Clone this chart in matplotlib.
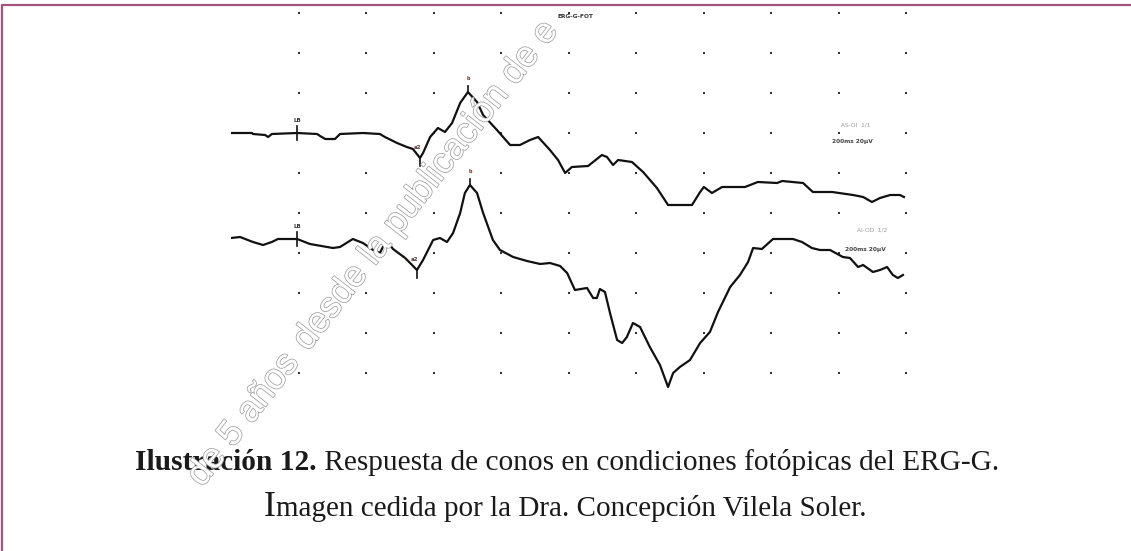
import numpy as np
import matplotlib
matplotlib.use("Agg")
import matplotlib.pyplot as plt
import matplotlib.patheffects as pe
from matplotlib.lines import Line2D

# time in ms (20 ms / division), amplitude in uV relative to each trace baseline
t_top = [0, 6.2, 6.5, 10.1, 11.0, 12.1, 19.6, 25.5, 26.4, 27.9, 30.8, 32.3, 39.1, 44.1,
         45.6, 49.2, 52.1, 53.9, 56.0, 56.9, 59.0, 61.3, 63.4, 65.5, 67.9, 70.2, 72.9,
         74.7, 78.8, 82.7, 85.6, 88.6, 91.0, 94.5, 96.9, 99.0, 101.0, 105.8, 109.9,
         111.4, 113.2, 114.7, 118.8, 122.1, 126.2, 129.5, 136.6, 139.0, 140.1, 142.5,
         145.5, 152.3, 156.1, 161.8, 163.3, 169.5, 172.4, 178.1, 184.3, 187.3, 189.9,
         192.3, 195.3, 198.2, 199.4]
v_top = [0, 0, -0.5, -1, -2, -0.5, 0, -0.5, -1.5, -3, -3, -0.5, 0, -0.5,
         -2, -5, -7, -8, -12.5, -10, -2, 2.5, 0.5, 5, 15, 20.5, 15.5,
         9, 1.5, -6, -6, -3.5, -2, -8.5, -13.5, -20, -17, -16.5, -11,
         -12, -16, -13.5, -14.5, -19.5, -27.5, -36, -36, -29.5, -27, -30,
         -27, -27, -24.5, -25, -24, -25, -29.5, -29.5, -31, -32, -34.5,
         -32.5, -31, -31, -32]

t_bot = [0, 2.7, 6.5, 9.5, 12.1, 13.9, 19.6, 23.4, 30.2, 32.3, 36.1, 39.1, 42.1, 44.1,
         45.0, 47.1, 48.0, 51.6, 55.1, 56.9, 59.9, 61.9, 64.0, 65.8, 67.9, 69.3, 70.8,
         72.9, 74.7, 77.6, 79.7, 83.6, 87.7, 91.6, 94.5, 97.5, 99.6, 101.9, 105.5,
         107.3, 108.4, 109.3, 110.8, 112.3, 114.4, 115.9, 117.3, 119.1, 121.2, 124.1,
         127.1, 129.5, 131.0, 133.0, 136.0, 139.0, 141.9, 144.3, 147.9, 150.8, 153.2,
         154.7, 157.3, 160.6, 166.5, 169.2, 172.1, 174.5, 177.5, 181.3, 183.4, 185.8,
         187.3, 190.2, 192.3, 194.4, 196.1, 197.6, 199.1]
v_bot = [0, 0.5, -2, -3.5, -2, -0.5, -0.5, -3, -5, -4.5, -0.5, -2.5, -6, -7.5,
         -4.5, -3.5, -5.5, -10, -16, -11, -1, 0, -2, 2.5, 12.5, 22.5, 26.5,
         22.5, 12.5, -1, -6, -9.5, -11.5, -13, -12.5, -14, -17.5, -26, -25,
         -30, -30, -25.5, -27, -37.5, -51, -52.5, -49.5, -42.5, -44.5, -54.5,
         -63.5, -74.5, -67.5, -64.5, -61, -52.5, -47, -37, -24.5, -18.5, -12,
         -5, -5.5, -0.5, -0.5, -2, -5, -6, -6, -9.5, -10, -14.5,
         -13.5, -17, -16, -14.5, -18.5, -20, -18.5]

channels = ["AS-OI  1/1", "AI-OD  1/2"]
scale_label = "200ms 20µV"
event_names = ["LB", "a2", "b"]
events_top = [19.6, 56.0, 70.2]
events_bot = [19.6, 55.1, 70.8]

grid_t = np.arange(20, 201, 20)
grid_v = np.arange(0, 181, 20)

fig = plt.figure(figsize=(11.31, 5.51), dpi=100)
ax = fig.add_axes([231 / 1131, 151 / 551, 675 / 1131, 400 / 551])
ax.set_xlim(0, 200)
ax.set_ylim(-13.5, 186.5)
ax.axis("off")

gt, gv = np.meshgrid(grid_t, grid_v)
ax.plot(gt.ravel(), gv.ravel(), "s", ms=1.6, color="#333333", mew=0, clip_on=False)

offsets = [120, 67.5]
traces = [(t_top, v_top, events_top), (t_bot, v_bot, events_bot)]
for (tt, vv, ev), off in zip(traces, offsets):
    yy = np.array(vv) + off
    ax.plot(tt, yy, color="#111111", lw=1.6)
    ys = np.interp(ev, tt, yy)
    # stimulus tick
    ax.plot([ev[0], ev[0]], [ys[0] - 3.5, ys[0] + 3.5], color="#111111", lw=1.2)
    ax.text(ev[0], ys[0] + 5, event_names[0], fontsize=4, ha="center", va="bottom",
            color="#333333", fontweight="bold")
    # a-wave tick
    ax.plot([ev[1], ev[1]], [ys[1], ys[1] - 4], color="#111111", lw=1.2)
    ax.text(ev[1] - 0.6, ys[1] + 4, event_names[1], fontsize=4, ha="center", va="bottom",
            color="#553333", fontweight="bold")
    # b-wave tick
    ax.plot([ev[2], ev[2]], [ys[2], ys[2] + 3], color="#111111", lw=1.2)
    ax.text(ev[2], ys[2] + 5.5, event_names[2], fontsize=3.5, ha="center", va="bottom",
            color="#773333", fontweight="bold")

ax.text(185, 124, channels[0], fontsize=4.2, color="#999999", ha="center", va="center")
ax.text(184, 115.5, scale_label, fontsize=4.2, color="#444444", ha="center", va="center",
        fontweight="bold")
ax.text(190, 71.5, channels[1], fontsize=4.2, color="#999999", ha="center", va="center")
ax.text(188, 62, scale_label, fontsize=4.2, color="#444444", ha="center", va="center",
        fontweight="bold")
ax.text(102, 178, "ERG-G-FOT", fontsize=4.2, color="#333333", ha="center", va="center",
        fontweight="bold")

# frame
pink = "#a5527f"
fig.add_artist(Line2D([2 / 1131, 2 / 1131, 1], [0, 1 - 5 / 551, 1 - 5 / 551],
                      color=pink, lw=1.6, transform=fig.transFigure))

# caption
serif = "Liberation Serif"
renderer = fig.canvas.get_renderer()
c1 = fig.text(0, 1 - 470 / 551, "Ilustración 12.", family=serif, fontsize=21.2,
              fontweight="bold", color="#1a1a1a", va="baseline")
c2 = fig.text(0, 1 - 470 / 551, " Respuesta de conos en condiciones fotópicas del ERG-G.",
              family=serif, fontsize=21.2, color="#1a1a1a", va="baseline")
w1 = c1.get_window_extent(renderer).width
w2 = c2.get_window_extent(renderer).width
x0 = 567 - (w1 + w2) / 2
c1.set_x(x0 / 1131)
c2.set_x((x0 + w1) / 1131)

d1 = fig.text(0, 1 - 516 / 551, "I", family=serif, fontsize=26, color="#1a1a1a",
              va="baseline")
d2 = fig.text(0, 1 - 516 / 551, "magen cedida por la Dra. Concepción Vilela Soler.",
              family=serif, fontsize=21, color="#1a1a1a", va="baseline")
w1 = d1.get_window_extent(renderer).width
w2 = d2.get_window_extent(renderer).width
x0 = 565 - (w1 + w2) / 2
d1.set_x(x0 / 1131)
d2.set_x((x0 + w1) / 1131)

# watermark
wm = dict(fontsize=26, color="white", rotation=52, rotation_mode="anchor",
          va="baseline", family="Liberation Sans", zorder=10,
          path_effects=[pe.withStroke(linewidth=1.1, foreground="#a0a0a0")])
fig.text(308 / 1131, 1 - 352 / 551, "desde la publicación de e", ha="left", **wm)
fig.text(306 / 1131, 1 - 355 / 551, "de 5 años ", ha="right", **wm)

fig.savefig("out.png", dpi=100)
